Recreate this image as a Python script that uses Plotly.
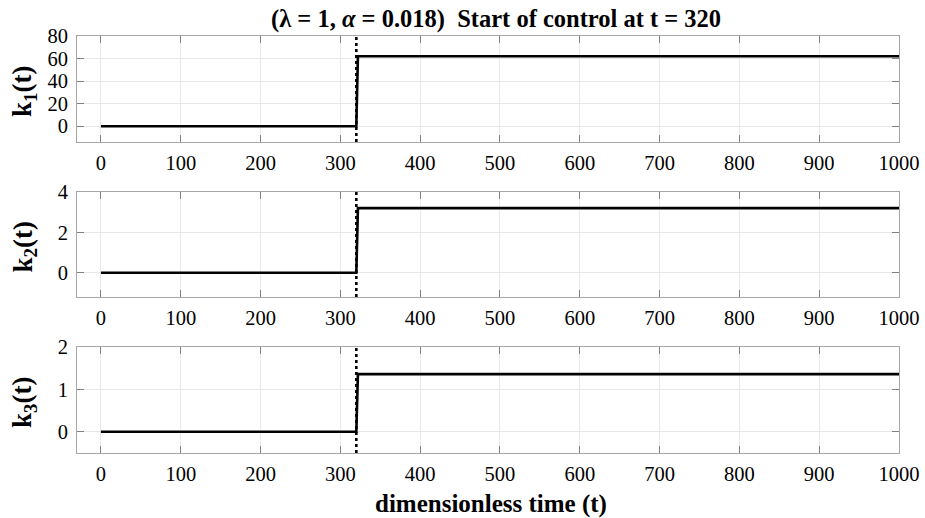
import plotly.graph_objects as go

# Controller gains before and after the control switch-on
t_start = 320
t = [0, 320, 322, 1000]
k1 = [0, 0, 62, 62]
k2 = [0, 0, 3.2, 3.2]
k3 = [0, 0, 1.36, 1.36]

x_ticks = [0, 100, 200, 300, 400, 500, 600, 700, 800, 900, 1000]
y_ticks = [[0, 20, 40, 60, 80], [0, 2, 4], [0, 1, 2]]
y_ranges = [[-14, 80], [-1.2, 4], [-0.5, 2]]
y_names = ["k<sub>1</sub>(t)", "k<sub>2</sub>(t)", "k<sub>3</sub>(t)"]
series = [k1, k2, k3]

W, H = 925, 518
x_px = (77, 899)
panels_px = [(36, 142), (192, 297), (347, 453)]

FONT = "Liberation Serif"
BOX = "#a6a6a6"
GRID = "#e8e8e8"
TICK_SIZE = 20.5
LABEL_SIZE = 25

fig = go.Figure()
layout = dict(
    width=W, height=H,
    margin=dict(l=0, r=0, t=0, b=0, pad=0),
    paper_bgcolor="white", plot_bgcolor="white",
    showlegend=False,
    font=dict(family=FONT, size=TICK_SIZE, color="black"),
)

shapes = []
annotations = []
for i, (vals, (top, bot)) in enumerate(zip(series, panels_px)):
    sfx = "" if i == 0 else str(i + 1)
    fig.add_trace(go.Scatter(
        x=t, y=vals, mode="lines",
        line=dict(color="black", width=2.6),
        xaxis="x" + sfx, yaxis="y" + sfx,
    ))
    layout["xaxis" + sfx] = dict(
        domain=[x_px[0] / W, x_px[1] / W],
        range=[-30, 1000], anchor="y" + sfx, automargin=False,
        tickvals=x_ticks, ticks="inside", ticklen=7, tickcolor="#808080",
        showgrid=True, gridcolor=GRID, gridwidth=1,
        showline=True, linecolor=BOX, linewidth=1, mirror="ticks",
        zeroline=False, tickfont=dict(family=FONT, size=TICK_SIZE),
        ticklabelstandoff=2,
    )
    layout["yaxis" + sfx] = dict(
        domain=[1 - bot / H, 1 - top / H],
        range=y_ranges[i], anchor="x" + sfx, automargin=False,
        tickvals=y_ticks[i], ticks="inside", ticklen=7, tickcolor="#808080",
        showgrid=True, gridcolor=GRID, gridwidth=1,
        showline=True, linecolor=BOX, linewidth=1, mirror="ticks",
        zeroline=False, tickfont=dict(family=FONT, size=TICK_SIZE),
        ticklabelstandoff=4,
    )
    shapes.append(dict(
        type="line", xref="x" + sfx, yref="y" + sfx + " domain",
        x0=t_start, x1=t_start, y0=0, y1=1,
        line=dict(color="black", width=2.6, dash="dot"),
    ))
    annotations.append(dict(
        text="<b>" + y_names[i] + "</b>", textangle=-90,
        xref="paper", yref="paper",
        x=24 / W, y=1 - ((top + bot) / 2 + 3) / H,
        xanchor="center", yanchor="middle", showarrow=False,
        font=dict(family=FONT, size=27),
    ))

annotations.append(dict(
    text="<b>(λ = 1, <i>α</i> = 0.018)  Start of control at t = 320</b>",
    xref="paper", yref="paper", x=496 / W, y=1 - 19 / H,
    xanchor="center", yanchor="middle", showarrow=False,
    font=dict(family=FONT, size=24.5),
))
annotations.append(dict(
    text="<b>dimensionless time (t)</b>",
    xref="paper", yref="paper", x=491 / W, y=1 - 504 / H,
    xanchor="center", yanchor="middle", showarrow=False,
    font=dict(family=FONT, size=LABEL_SIZE),
))

layout["shapes"] = shapes
layout["annotations"] = annotations
fig.update_layout(**layout)
fig.write_html("out.html")
